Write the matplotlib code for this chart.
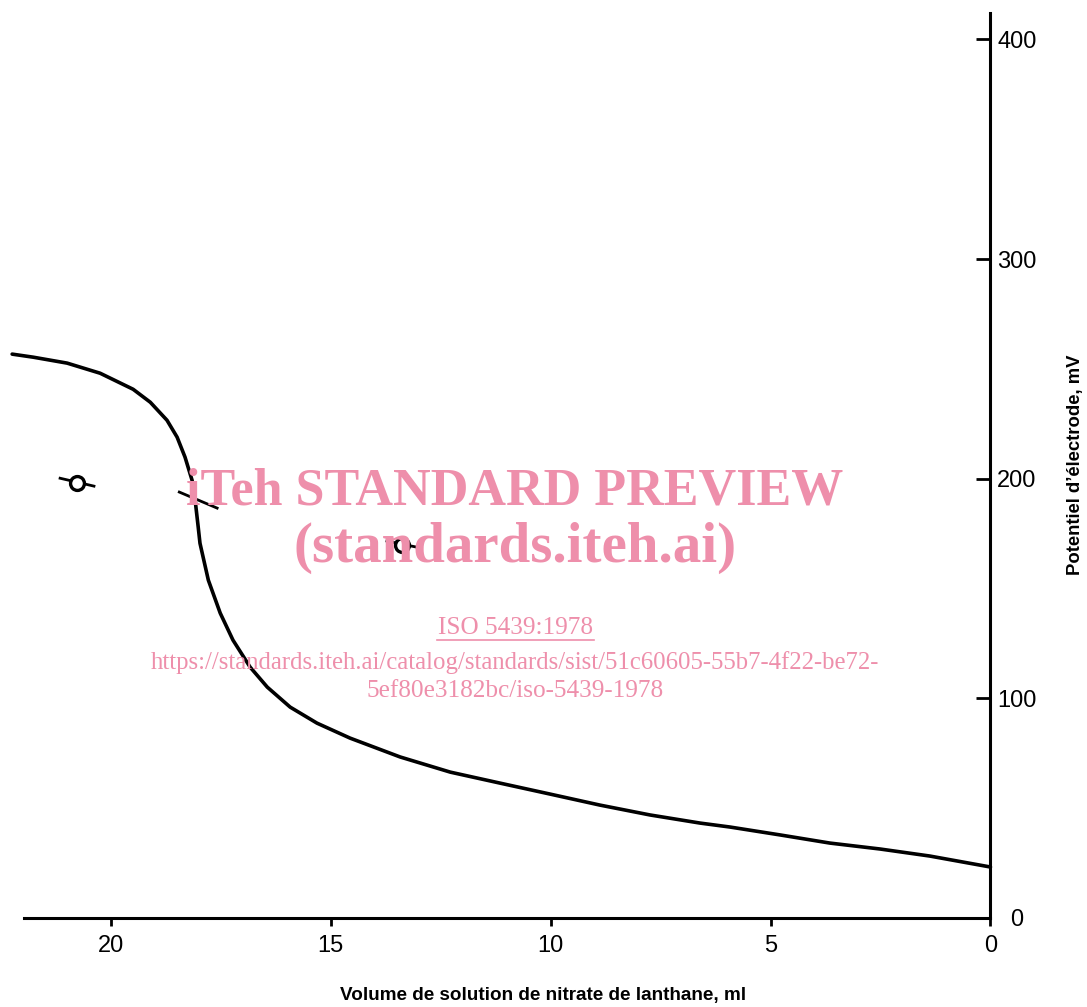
import matplotlib.pyplot as plt

# titration curve (ml, mV)
volume = [22.24, 21.76, 20.99, 20.24, 19.49, 19.10, 18.72, 18.49, 18.31, 18.15,
          18.08, 18.01, 17.97, 17.78, 17.51, 17.22, 16.83, 16.44, 15.92, 15.31,
          14.56, 13.42, 12.28, 11.15, 10.01, 8.88, 7.74, 6.60, 5.92, 4.78,
          3.65, 2.51, 1.38, 0.0]
potential = [256.7, 255.3, 252.6, 248.0, 240.7, 234.8, 226.6, 218.9, 209.8, 199.3,
             190.2, 177.9, 170.6, 153.8, 138.8, 126.5, 114.2, 105.1, 96.0, 88.7,
             81.9, 73.3, 66.4, 61.4, 56.4, 51.4, 46.9, 43.2, 41.4, 37.8,
             34.1, 31.4, 28.2, 23.2]

# open circles with a stroke through them
mark_x = [20.76, 13.38]
mark_y = [197.9, 169.7]
stroke_x = [[21.15, 20.38], [13.72, 12.94]]
stroke_y = [[200.2, 196.6], [171.6, 168.4]]
# equivalence point stroke
equiv_x = [18.44, 17.58]
equiv_y = [193.9, 186.6]

xticks = [20, 15, 10, 5, 0]
yticks = [0, 100, 200, 300, 400]

fig = plt.figure(figsize=(10.87, 10.07), dpi=100)
ax = fig.add_axes([0.0221, 0.0884, 0.9112 - 0.0221, 0.9871 - 0.0884])

ax.plot(volume, potential, color='black', lw=2.6, solid_capstyle='round',
        solid_joinstyle='round', clip_on=False)
for sx, sy in zip(stroke_x, stroke_y):
    ax.plot(sx, sy, color='black', lw=2)
ax.plot(mark_x, mark_y, 'o', ms=10, mfc='white', mec='black', mew=2.4)
ax.plot(equiv_x, equiv_y, color='black', lw=2)

ax.set_xlim(21.97, 0)
ax.set_ylim(0, 412)
ax.set_xticks(xticks)
ax.set_yticks(yticks)
ax.yaxis.tick_right()

for side in ['top', 'left']:
    ax.spines[side].set_visible(False)
for side in ['bottom', 'right']:
    ax.spines[side].set_linewidth(2.2)

ax.tick_params(axis='x', direction='out', length=6, width=2, labelsize=17, pad=6)
ax.tick_params(axis='y', direction='in', length=10, width=2, labelsize=17, pad=19)
for lab in ax.get_yticklabels():
    lab.set_horizontalalignment('center')
for lab in ax.get_xticklabels() + ax.get_yticklabels():
    lab.set_family('Liberation Sans')

fig.text(0.5, 0.011, "Volume de solution de nitrate de lanthane, ml", ha='center',
         va='center', fontsize=13.6, fontweight='bold', family='Liberation Sans')
fig.text(0.989, 0.538, "Potentiel d\u2019\u00e9lectrode, mV", rotation=90, ha='center',
         va='center', fontsize=13.3, fontweight='bold', family='Liberation Sans')

# watermark
pink = '#ee8fab'
fig.text(0.4738, 0.512, "iTeh STANDARD PREVIEW", ha='center', va='center', color=pink,
         fontsize=37.5, fontweight='bold', family='Liberation Serif')
fig.text(0.4738, 0.456, "(standards.iteh.ai)", ha='center', va='center', color=pink,
         fontsize=41, fontweight='bold', family='Liberation Serif')
fig.text(0.4738, 0.376, "ISO 5439:1978", ha='center', va='center', color=pink,
         fontsize=18.2, family='Liberation Serif')
fig.text(0.4738, 0.342, "https://standards.iteh.ai/catalog/standards/sist/51c60605-55b7-4f22-be72-",
         ha='center', va='center', color=pink, fontsize=17.8, family='Liberation Serif')
fig.text(0.4738, 0.314, "5ef80e3182bc/iso-5439-1978", ha='center', va='center', color=pink,
         fontsize=18.2, family='Liberation Serif')
fig.add_artist(plt.Line2D([0.402, 0.546], [0.364, 0.364], color=pink, lw=1.2))

fig.savefig('out.png', dpi=100)
